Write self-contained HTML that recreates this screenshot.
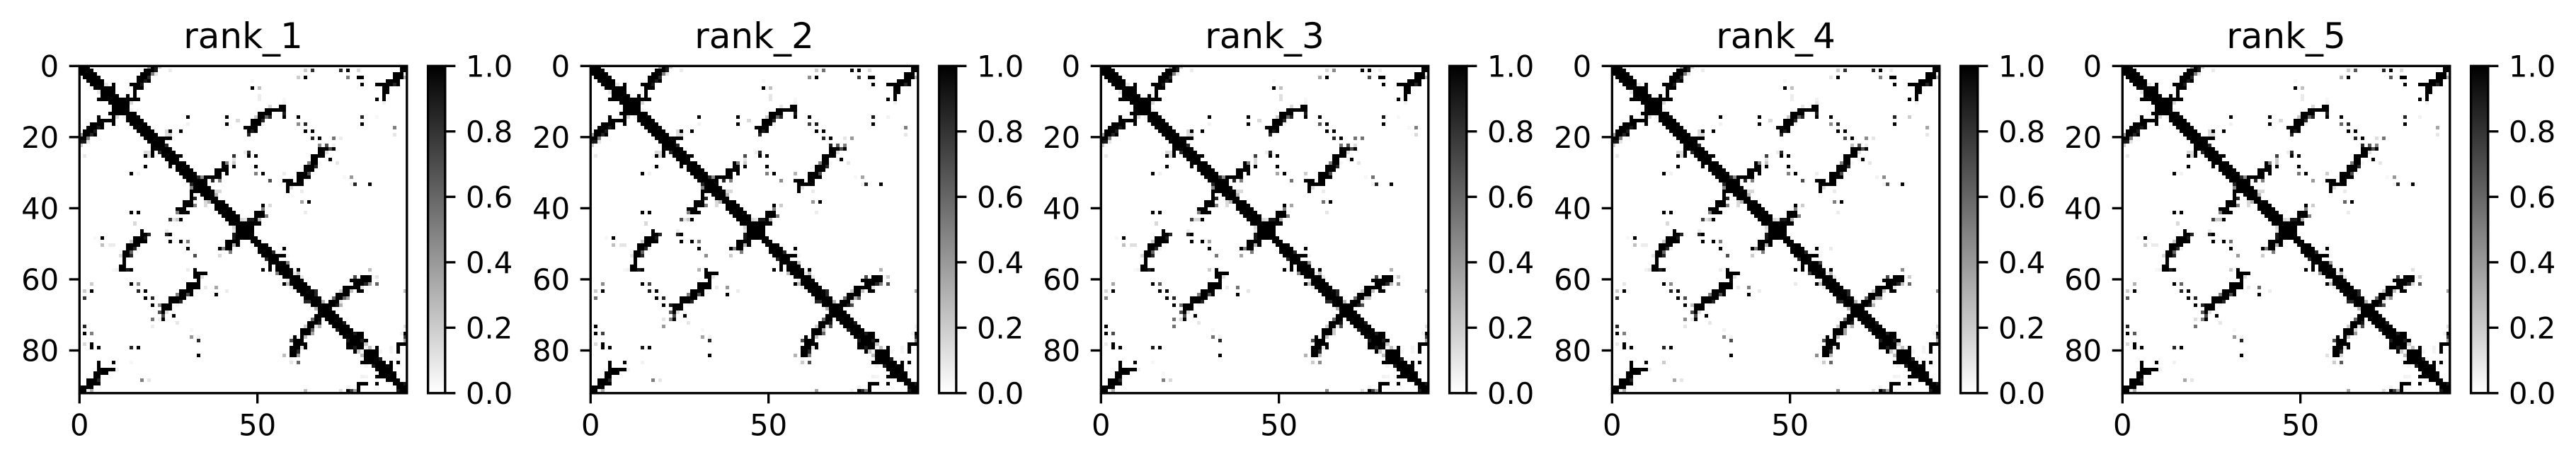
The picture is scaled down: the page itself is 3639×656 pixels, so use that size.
<!DOCTYPE html>
<html lang="en">
<head>
<meta charset="utf-8">
<title>Predicted contact maps rank_1 to rank_5</title>
<style>
html,body{margin:0;padding:0;background:#fff;width:3639px;height:656px;overflow:hidden}
svg{display:block}
text{font-family:"DejaVu Sans","Liberation Sans",sans-serif;fill:#000}
</style>
</head>
<body>
<svg id="chart" xmlns="http://www.w3.org/2000/svg" width="3639" height="656" viewBox="0 0 3639 656">
<defs>
<linearGradient id="cbarGradient" x1="0" y1="1" x2="0" y2="0">
<stop offset="0" stop-color="#ffffff"/>
<stop offset="1" stop-color="#000000"/>
</linearGradient>
</defs>
<rect width="3639" height="656" fill="#fff"/>
</svg>
<script>
const panelNames = ['rank_1','rank_2','rank_3','rank_4','rank_5'];
const xTickValues = [0,50];
const yTickValues = [0,20,40,60,80];
const colorbarTicks = [0,0.2,0.4,0.6,0.8,1];
const matrixSize = [92];

// Upper triangle of the symmetric map, full-intensity runs: [row, fromCol, toCol]
const bandRunsA = [[0,0,2],[1,1,3],[2,2,4],[3,3,5],[4,4,6],[5,5,6],[5,9,9],[6,6,9],[7,7,9],[8,8,10],[9,9,16],[10,10,13],[11,11,13],[12,12,13],[13,13,15],[14,14,16],[15,15,17],[16,16,18],[17,17,19],[18,18,20],[19,19,21],[20,20,25],[21,21,23],[22,22,24],[23,23,25],[24,24,26],[25,25,28],[26,26,27],[27,27,29],[28,28,30],[29,29,31],[30,30,32],[31,31,32],[32,32,35],[33,33,35],[34,34,36],[35,35,37],[36,36,37],[37,37,38],[38,38,40],[39,39,41],[40,40,42],[41,41,43],[42,42,44],[43,43,44],[44,44,50],[45,45,48]];
const bandRunsB = [[46,46,48],[47,47,48],[48,48,49],[49,49,50],[50,50,52],[51,51,53],[52,52,53],[53,53,57],[54,54,55],[55,55,57],[56,56,58],[57,57,59],[58,58,59],[59,59,61],[60,60,62],[61,61,63],[62,62,64],[63,63,65],[64,64,65],[65,65,67],[66,66,67],[67,67,71],[68,68,70],[69,69,71],[70,70,72],[71,71,73],[72,72,73],[73,73,75],[74,74,76],[75,75,76],[75,78,79],[76,76,79],[77,77,78],[77,80,80],[78,78,79],[79,79,80],[80,80,83],[81,81,83],[82,82,83],[83,83,85],[84,84,87],[85,85,87],[86,86,88],[87,87,88],[88,88,89],[89,89,90],[90,90,91],[91,91,91]];
const strandRuns = [[0,20,20],[1,18,20],[2,17,19],[3,16,18],[4,16,17],[4,19,19],[5,14,16],[6,15,17],[7,15,15],[8,13,13],[8,15,15],[27,40,40],[28,40,41],[29,38,41],[30,38,39],[30,41,41],[31,35,39],[41,49,51],[42,49,51],[43,49,49],[11,56,57],[12,52,57],[13,50,53],[14,50,51],[15,48,50],[16,48,50],[17,46,49],[18,47,47],[18,49,49],[23,67,69],[24,67,68],[25,65,68],[26,65,66],[27,65,66],[28,63,65],[29,63,65],[30,61,63],[31,61,64],[32,57,59],[32,61,62],[33,58,62],[34,58,58],[35,58,58],[59,79,81],[60,76,81],[61,77,79],[62,74,78],[63,74,75],[63,78,79],[64,72,75],[65,72,73],[66,70,72],[67,69,71],[0,90,91],[1,90,91],[2,88,90],[3,88,90],[4,86,89],[5,83,87],[5,89,89],[6,85,86],[7,85,86],[8,85,85],[9,85,85],[78,89,91],[79,89,89],[80,89,89],[89,78,80],[90,78,78],[91,78,78]];
const dotRuns = [[14,30,30],[14,41,41],[16,41,41],[18,25,25],[18,28,28],[28,43,43],[1,75,75],[3,63,63],[3,78,79],[5,79,79],[6,48,48],[9,83,83],[14,57,57],[14,61,61],[16,79,79],[18,63,63],[18,65,65],[20,67,67],[23,71,71],[25,47,47],[25,49,49],[26,70,70],[28,49,49],[30,51,51],[33,81,81],[38,64,64],[39,51,51],[51,57,57],[57,61,61],[79,83,83],[83,87,87],[83,89,89],[75,91,91]];

// Upper triangle, partial-intensity cells: [row, col, value]
const weakCellsA = [[0,19,.4],[0,21,.9],[0,22,.2],[1,21,.9],[1,25,.08],[2,20,.5],[2,21,.1],[3,19,.85],[4,18,.9],[5,7,.1],[5,17,.9],[10,14,.15],[12,14,.04],[16,30,.05],[15,44,.15],[18,24,.15],[19,24,.12],[19,25,.15],[22,24,.85],[25,43,.8],[26,43,.1],[27,41,.5],[27,43,.2],[31,33,.85],[31,34,.45],[32,37,.85],[32,39,.5],[35,38,.15],[35,39,.15],[36,38,.3]];
const weakCellsB = [[2,91,.05],[3,91,.3],[1,63,.2],[1,65,.8],[1,73,.85],[1,78,.15],[3,61,.2],[3,75,.5],[4,48,.03],[5,88,.85],[6,50,.25],[8,50,.07],[9,50,.07],[9,57,.03],[10,57,.05],[10,85,.05],[11,53,.15],[13,57,.9],[14,49,.2],[14,52,.6],[14,53,.85],[14,79,.85],[14,83,.03],[15,51,.85],[16,51,.05],[16,61,.45],[16,63,.85],[17,88,.5],[18,48,.9],[19,47,.85],[19,88,.1],[20,65,.85],[20,71,.55],[20,73,.07]];
const weakCellsC = [[22,67,.45],[22,69,.7],[22,71,.05],[23,70,.7],[24,46,.07],[24,47,.85],[24,69,.12],[26,69,.03],[27,64,.5],[27,67,.03],[27,72,.1],[28,66,.85],[30,49,.5],[30,57,.07],[30,64,.7],[31,74,.03],[31,76,.4],[32,53,.7],[33,77,.85],[33,76,.05],[34,59,.12],[35,62,.08],[38,62,.35],[39,53,.15],[40,51,.5],[41,63,.07],[42,52,.5],[43,45,.15],[43,46,.1],[43,47,.9],[43,48,.9],[43,50,.3]];
const weakCellsD = [[52,54,.85],[53,58,.03],[55,58,.5],[58,60,.08],[58,61,.25],[59,62,.08],[63,66,.85],[64,66,.85],[66,68,.3],[57,81,.25],[59,77,.7],[59,82,.03],[59,83,.1],[61,80,.85],[61,81,.4],[61,83,.6],[62,79,.1],[63,73,.2],[63,76,.25],[65,71,.6],[65,74,.6],[65,75,.35],[66,73,.1],[67,72,.9],[67,73,.3],[72,74,.9],[75,77,.9],[75,90,.05],[77,79,.9],[78,80,.2],[79,81,.25],[79,87,.05],[80,84,.05],[80,87,.04],[82,84,.9],[63,91,.25],[73,91,.12],[76,91,.75],[77,91,.35],[89,91,.9],[79,87,.05],[80,79,.04],[84,80,.04]];

// Per-panel cell values that differ from the shared map: [row, col, value]
const rank1Changes = [];
const rank2Changes = [[1,65,.55],[1,73,1],[3,61,.45],[3,75,.75],[8,50,.1],[9,50,.1],[11,53,.1],[14,79,.9],[14,83,.05],[16,61,.75],[16,63,.9],[20,71,.1],[20,73,.4],[22,67,.9],[22,69,.65],[22,71,.5],[25,43,.7],[30,57,.3],[31,76,.35],[32,53,.45],[34,59,.1],[38,62,.4],[39,53,.2],[55,58,.25],[57,81,.3],[59,83,.2],[61,81,.5],[61,83,.7],[63,91,.35],[65,74,.3],[65,75,.6],[67,73,.7],[73,91,.05],[76,91,.85],[77,91,.5]];
const rank3Changes = [[1,63,.15],[1,65,.45],[1,73,1],[1,78,.08],[3,61,.35],[3,75,.7],[8,50,.12],[9,50,.12],[14,79,.9],[16,61,.65],[16,63,1],[17,86,.03],[19,88,.15],[20,71,.55],[20,73,.55],[22,67,.55],[22,71,.15],[25,43,.75],[26,43,.15],[27,43,.15],[30,49,.35],[30,57,.2],[31,76,.55],[32,53,.55],[38,62,.55],[39,53,.35],[41,63,.1],[55,58,.45],[57,81,.3],[59,83,.2],[61,81,.25],[61,83,.45],[63,91,.45],[65,74,.2],[65,75,.2],[67,73,.7]];
const rank4Changes = [[1,78,.08],[3,61,.1],[9,57,.05],[10,57,.1],[11,53,.1],[14,83,.2],[17,88,.35],[20,65,.7],[20,71,.45],[20,73,.1],[22,67,.25],[22,71,.07],[25,43,.75],[31,74,.05],[31,76,.45],[33,77,.7],[38,62,.5],[39,53,.2],[51,61,.08],[55,58,.75],[57,81,.45],[59,83,.2],[61,81,.25],[63,91,.45],[65,74,.35]];
const rank5Changes = [[1,65,.65],[3,61,.3],[3,75,.65],[8,50,.08],[9,50,.08],[14,83,.05],[16,61,.6],[17,88,.35],[20,71,.13],[20,73,.55],[22,67,.85],[22,69,.65],[22,71,.5],[25,43,.75],[26,43,.2],[27,43,.2],[30,49,.55],[30,57,.2],[32,53,.4],[38,62,.6],[39,53,.2],[55,58,.4],[57,81,.12],[59,83,.2],[61,81,.15],[61,83,.65],[63,91,.35],[65,74,.15],[65,75,.4],[67,73,.7]];

const svg = document.getElementById('chart');
const NS = 'http://www.w3.org/2000/svg';
const axLeft = 112.3, axTop = 93.3, axSize = 462.5, panelStep = 721.6;
const cbLeft = 604.6, cbWidth = 24.2, lineW = 3.33, tickLen = 14.6, tickPad = 14.6;
const size = matrixSize[0];
const cellPx = axSize / size;
function xScale(v){ return axLeft + v * cellPx; }
function yScale(v){ return axTop + v * cellPx; }
function cbScale(v){ return axTop + (1 - v) * axSize; }
function grey(v){ const g = Math.round(255 * (1 - v)); return 'rgb(' + g + ',' + g + ',' + g + ')'; }
function make(tag, attrs, parent){
  const el = document.createElementNS(NS, tag);
  for (const k in attrs) el.setAttribute(k, attrs[k]);
  parent.appendChild(el);
  return el;
}
function buildMatrix(changes){
  const m = [];
  for (let r = 0; r < size; r++) m.push(new Array(size).fill(0));
  function put(r, c, v){ if (r < size && c < size){ m[r][c] = v; m[c][r] = v; } }
  [bandRunsA, bandRunsB, strandRuns, dotRuns].forEach(function(list){
    list.forEach(function(run){ for (let c = run[1]; c <= run[2]; c++) put(run[0], c, 1); });
  });
  [weakCellsA, weakCellsB, weakCellsC, weakCellsD, changes].forEach(function(list){
    list.forEach(function(cell){ put(cell[0], cell[1], cell[2]); });
  });
  return m;
}
const panelChanges = [rank1Changes, rank2Changes, rank3Changes, rank4Changes, rank5Changes];

panelNames.forEach(function(name, p){
  const g = make('g', {transform: 'translate(' + Math.round(p * panelStep) + ',0)'}, svg);
  
  

  const title = make('text', {x: xScale(size / 2), y: 68, 'font-size': 50, 'text-anchor': 'middle'}, g);
  
  
  title.textContent = name;

  const matrix = buildMatrix(panelChanges[p]);
  const cells = make('g', {'shape-rendering': 'crispEdges'}, g);
  
  
  for (let r = 0; r < size; r++){
    const y0 = Math.round(yScale(r) - 1), y1 = Math.round(yScale(r + 1) - 1);
    for (let c = 0; c < size; c++){
      const v = matrix[r][c];
      if (v <= 0) continue;
      const x0 = Math.round(xScale(c)), x1 = Math.round(xScale(c + 1));
      const rect = make('rect', {x: x0, y: y0, width: x1 - x0, height: y1 - y0, fill: grey(v)}, cells);
      
      
    }
  }

  const frame = make('rect', {x: xScale(0), y: yScale(0), width: axSize, height: axSize, fill: 'none', stroke: '#000', 'stroke-width': lineW}, g);
  
  

  xTickValues.forEach(function(t){
    const x = xScale(t), y0 = yScale(size);
    const tick = make('line', {x1: x, x2: x, y1: y0, y2: y0 + tickLen, stroke: '#000', 'stroke-width': lineW}, g);
    
    
    const label = make('text', {x: x, y: y0 + tickLen + tickPad + 30.4, 'font-size': 41.67, 'text-anchor': 'middle'}, g);
    
    
    label.textContent = String(t);
  });
  yTickValues.forEach(function(t){
    const y = yScale(t), x0 = xScale(0);
    const tick = make('line', {x1: x0 - tickLen, x2: x0, y1: y, y2: y, stroke: '#000', 'stroke-width': lineW}, g);
    
    
    const label = make('text', {x: x0 - tickLen - tickPad, y: y + 15.2, 'font-size': 41.67, 'text-anchor': 'end'}, g);
    
    
    label.textContent = String(t);
  });

  const bar = make('rect', {x: cbLeft, y: axTop, width: cbWidth, height: axSize, fill: 'url(#cbarGradient)', stroke: '#000', 'stroke-width': lineW}, g);
  
  
  colorbarTicks.forEach(function(t){
    const y = cbScale(t), x0 = cbLeft + cbWidth;
    const tick = make('line', {x1: x0, x2: x0 + tickLen, y1: y, y2: y, stroke: '#000', 'stroke-width': lineW}, g);
    
    
    const label = make('text', {x: x0 + tickLen + tickPad, y: y + 15.2, 'font-size': 41.67}, g);
    
    
    label.textContent = t.toFixed(1);
  });
});
</script>
</body>
</html>
